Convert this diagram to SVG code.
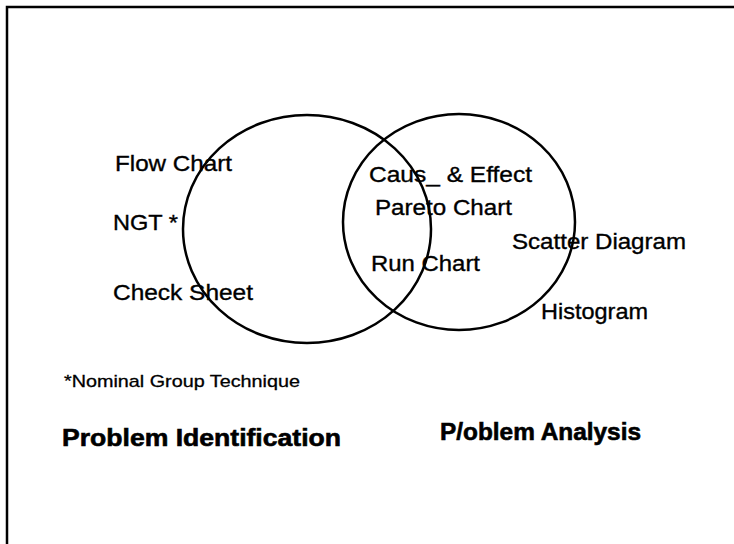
<svg xmlns="http://www.w3.org/2000/svg" width="734" height="544" viewBox="0 0 734 544">
<style>
.lbl{font-family:"Liberation Sans",Arial,sans-serif;font-size:22px;fill:#000;stroke:#000;stroke-width:0.35}
.note{font-family:"Liberation Sans",Arial,sans-serif;font-size:17px;fill:#000;stroke:#000;stroke-width:0.3}
.ttl{font-family:"Liberation Sans",Arial,sans-serif;font-size:24px;font-weight:bold;fill:#000;stroke:#000;stroke-width:0.6}
.ring{fill:none;stroke:#000;stroke-width:2.5}
</style>
<rect width="734" height="544" fill="#fff"/>
<path d="M7,544 V7 H734" fill="none" stroke="#000" stroke-width="2.5"/>
<g id="problem-identification-set">
<ellipse class="ring" cx="307" cy="229" rx="124" ry="114"/>
</g>
<g id="problem-analysis-set">
<ellipse class="ring" cx="459" cy="222" rx="116" ry="108"/>
</g>
<g id="connectors"></g>
<g id="flow-chart"><text class="lbl" x="115" y="171" textLength="117" lengthAdjust="spacingAndGlyphs">Flow Chart</text></g>
<g id="ngt"><text class="lbl" x="113" y="230" textLength="65" lengthAdjust="spacingAndGlyphs">NGT *</text></g>
<g id="check-sheet"><text class="lbl" x="113" y="300" textLength="140" lengthAdjust="spacingAndGlyphs">Check Sheet</text></g>
<g id="cause-effect"><text class="lbl" x="369" y="182" textLength="163" lengthAdjust="spacingAndGlyphs">Caus_ &amp; Effect</text></g>
<g id="pareto-chart"><text class="lbl" x="375" y="215" textLength="137" lengthAdjust="spacingAndGlyphs">Pareto Chart</text></g>
<g id="run-chart"><text class="lbl" x="371" y="271" textLength="109" lengthAdjust="spacingAndGlyphs">Run Chart</text></g>
<g id="scatter-diagram"><text class="lbl" x="512" y="249" textLength="174" lengthAdjust="spacingAndGlyphs">Scatter Diagram</text></g>
<g id="histogram"><text class="lbl" x="541" y="319" textLength="107" lengthAdjust="spacingAndGlyphs">Histogram</text></g>
<g id="footnote"><text class="note" x="64" y="387" textLength="236" lengthAdjust="spacingAndGlyphs">*Nominal Group Technique</text></g>
<g id="title-identification"><text class="ttl" x="62" y="446" textLength="279" lengthAdjust="spacingAndGlyphs">Problem Identification</text></g>
<g id="title-analysis"><text class="ttl" x="440" y="440" textLength="201" lengthAdjust="spacingAndGlyphs">P/oblem Analysis</text></g>
</svg>
